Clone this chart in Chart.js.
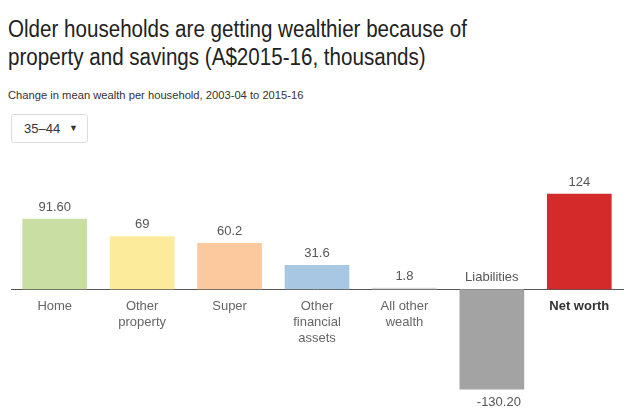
<!DOCTYPE html>
<html>
<head>
<meta charset="utf-8">
<script src="https://cdn.jsdelivr.net/npm/chart.js@4"></script>
<style>
  body { margin: 0; background: #fff; font-family: "Liberation Sans", Arial, sans-serif; width: 640px; height: 420px; overflow: hidden; position: relative; }
  h1 { position: absolute; left: 8px; top: 15px; margin: 0; font-weight: normal; font-size: 23px; line-height: 28px; color: #222; width: 700px; transform: scaleX(0.895); transform-origin: 0 0; }
  .sub { position: absolute; left: 8px; top: 89px; font-size: 11.2px; color: #333; }
  .select { position: absolute; left: 11px; top: 114px; width: 77px; height: 29px; border: 1px solid #ddd; border-radius: 3px; box-sizing: border-box; font-size: 13px; color: #333; line-height: 27px; padding-left: 12px; }
  .select span { position: absolute; right: 9px; top: 0; font-size: 9px; }
  #wrap { position: absolute; left: 0; top: 160px; width: 640px; height: 260px; }
</style>
</head>
<body>
<h1>Older households are getting wealthier because of<br>property and savings (A$2015-16, thousands)</h1>
<div class="sub">Change in mean wealth per household, 2003-04 to 2015-16</div>
<div class="select">35–44<span>▼</span></div>
<div id="wrap"><canvas id="wealthChart"></canvas></div>
<script>
// Datos
const categories = [["Home"], ["Other", "property"], ["Super"], ["Other", "financial", "assets"], ["All other", "wealth"], ["Liabilities"], ["Net worth"]];
const values = [91.6, 69, 60.2, 31.6, 1.8, -130.2, 124];
const valueLabels = ["91.60", "69", "60.2", "31.6", "1.8", "-130.20", "124"];
const barColors = ["#c9dea3", "#fdeb9c", "#fbc99d", "#a8c7e2", "#d8d8d8", "#a3a3a3", "#d42a2a"];

// etiquetas de valor y nombre de barras negativas
const barLabels = {
    id: "barLabels",
    afterDatasetsDraw(chart) {
        const c = chart.ctx;
        const meta = chart.getDatasetMeta(0);
        c.save();
        c.font = "13px 'Liberation Sans', Arial, sans-serif";
        c.fillStyle = "#555";
        c.textAlign = "center";
        meta.data.forEach((bar, i) => {
            if (values[i] >= 0) {
                c.textBaseline = "bottom";
                c.fillText(valueLabels[i], bar.x, bar.y - 5);
            } else {
                c.textBaseline = "top";
                c.fillText(valueLabels[i], bar.x + 7, bar.y + 7);
                c.textBaseline = "bottom";
                c.fillText(categories[i].join(" "), bar.x, bar.base - 5);
            }
        });
        c.restore();
    }
};

new Chart(document.getElementById("wealthChart"), {
    type: "bar",
    data: {
        labels: categories,
        datasets: [{
            data: values,
            backgroundColor: barColors,
            barPercentage: 0.74,
            categoryPercentage: 1
        }]
    },
    options: {
        responsive: true,
        maintainAspectRatio: false,
        animation: false,
        layout: { padding: { left: 11, right: 17, top: 0, bottom: 0 } },
        plugins: { legend: { display: false }, tooltip: { enabled: false } },
        scales: {
            y: { display: false, min: -170, max: 168 },
            x: {
                position: { y: 0 },
                grid: { display: false },
                border: { display: true, color: "#555", width: 1 },
                ticks: {
                    autoSkip: false,
                    maxRotation: 0,
                    padding: 1,
                    color: (ctx) => ctx.index === 6 ? "#333" : "#666",
                    font: (ctx) => ({ family: "'Liberation Sans', Arial, sans-serif", size: 13, weight: ctx.index === 6 ? "bold" : "normal", lineHeight: 1.23 }),
                    callback: (v, i) => values[i] < 0 ? "" : categories[i]
                }
            }
        }
    },
    plugins: [barLabels]
});
</script>
</body>
</html>
